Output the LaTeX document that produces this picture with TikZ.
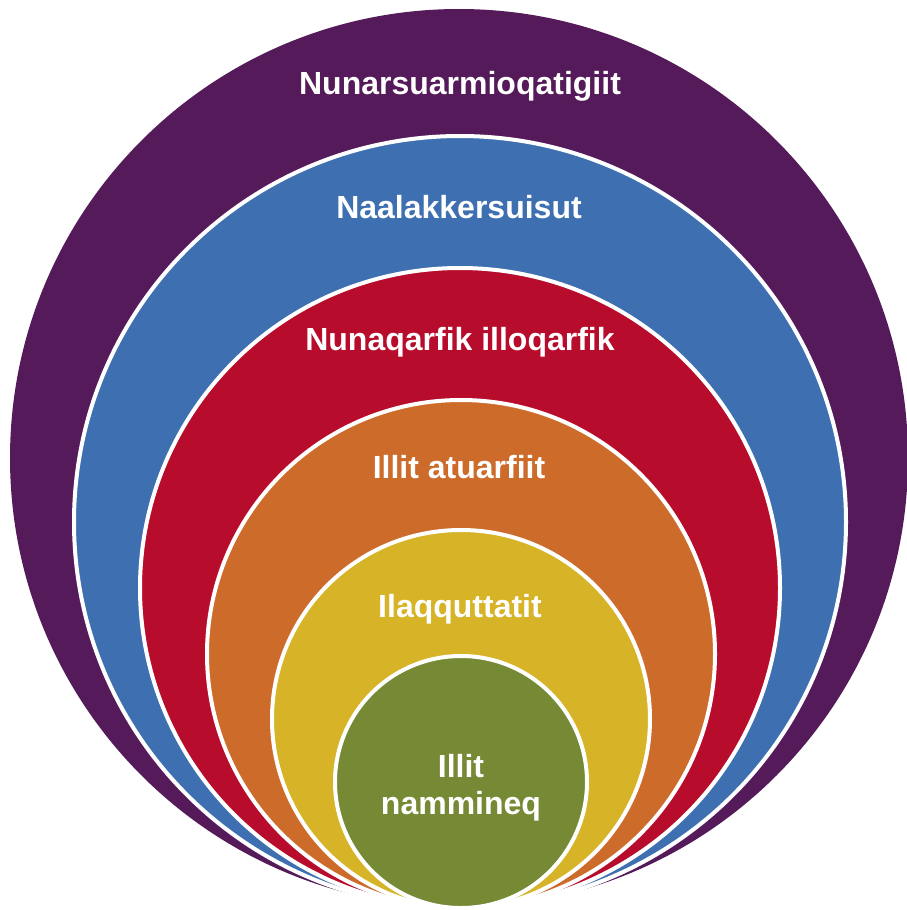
\documentclass[tikz,border=0pt]{standalone}
\usepackage{fontspec}
\setmainfont{Liberation Sans}
\definecolor{cpurple}{HTML}{541A59}
\definecolor{cblue}{HTML}{3E6FB0}
\definecolor{cred}{HTML}{B70C2B}
\definecolor{corange}{HTML}{CD6B2B}
\definecolor{cyellow}{HTML}{D6B327}
\definecolor{cgreen}{HTML}{768935}
\begin{document}
\begin{tikzpicture}[x=1pt,y=-1pt,
  ring/.style={draw=white,line width=4pt},
  lbl/.style={text=white,font=\fontsize{32}{37}\selectfont\bfseries,anchor=base,inner sep=0pt,align=center}]
\useasboundingbox (0,0) rectangle (907,910);
\fill[cpurple] (459,458) circle[radius=449];
\filldraw[ring,fill=cblue] (460,522) circle[radius=386];
\filldraw[ring,fill=cred] (460,588) circle[radius=320];
\filldraw[ring,fill=corange] (461,654) circle[radius=254];
\filldraw[ring,fill=cyellow] (461,719) circle[radius=189];
\filldraw[ring,fill=cgreen] (461,782) circle[radius=126];
\node[lbl] (t1) at (460,94) {Nunarsuarmioqatigiit};
\node[lbl] (t2) at (459,218) {Naalakkersuisut};
\node[lbl] (t3) at (460,350) {Nunaqarfik illoqarfik};
\node[lbl] (t4) at (459,478) {Illit atuarfiit};
\node[lbl] (t5) at (460,617) {Ilaqquttatit};
\node[lbl] (t6) at (461,777) {Illit};
\node[lbl] (t7) at (461,814) {nammineq};
\end{tikzpicture}
\end{document}
